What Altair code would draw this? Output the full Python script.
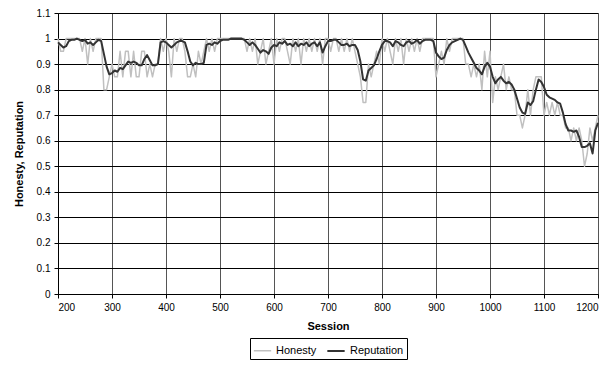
import altair as alt
import pandas as pd

sessions = list(range(200, 1201, 5))

honesty = [
    1.0, 0.95, 0.95, 1.0, 1.0, 1.0, 1.0, 1.0, 1.0, 0.95,
    1.0, 0.9, 1.0, 0.95, 1.0, 1.0, 1.0, 0.8, 0.8, 0.85,
    0.9, 0.85, 0.85, 0.95, 0.85, 0.95, 0.95, 0.85, 0.95, 0.85,
    0.85, 0.95, 0.95, 0.85, 0.9, 0.85, 0.9, 0.9, 1.0, 0.95,
    1.0, 0.95, 0.85, 1.0, 0.95, 1.0, 1.0, 0.95, 0.85, 0.85,
    0.9, 0.85, 0.95, 0.9, 0.95, 1.0, 0.95, 1.0, 0.95, 1.0,
    1.0, 1.0, 1.0, 1.0, 1.0, 1.0, 1.0, 1.0, 1.0, 1.0,
    0.95, 1.0, 0.95, 1.0, 0.9, 0.95, 1.0, 0.9, 0.95, 1.0,
    0.9, 1.0, 0.95, 1.0, 1.0, 0.95, 0.9, 1.0, 0.95, 1.0,
    0.9, 1.0, 0.95, 1.0, 0.95, 1.0, 0.95, 1.0, 0.9, 1.0,
    1.0, 0.95, 1.0, 1.0, 0.95, 1.0, 0.95, 1.0, 0.95, 1.0,
    0.95, 0.9, 0.85, 0.75, 0.75, 0.9, 0.85, 0.9, 0.95, 0.9,
    1.0, 0.95, 1.0, 0.95, 0.9, 1.0, 0.95, 1.0, 0.9, 1.0,
    0.95, 1.0, 0.95, 1.0, 0.95, 1.0, 1.0, 1.0, 1.0, 1.0,
    0.85, 0.9, 0.95, 0.9, 1.0, 0.95, 1.0, 1.0, 1.0, 1.0,
    1.0, 0.9, 0.9, 0.85, 0.9, 0.85, 0.9, 0.8, 0.95, 0.85,
    0.95, 0.75, 0.85, 0.8, 0.85, 0.9, 0.8, 0.85, 0.8, 0.8,
    0.7, 0.7, 0.65, 0.7, 0.8, 0.7, 0.8, 0.85, 0.85, 0.85,
    0.7, 0.75, 0.7, 0.75, 0.7, 0.75, 0.7, 0.7, 0.65, 0.65,
    0.6, 0.65, 0.6, 0.65, 0.6, 0.5, 0.55, 0.65, 0.6, 0.65,
    0.7,
]

reputation = [
    0.985, 0.975, 0.965, 0.97, 0.99, 0.995, 0.995, 1.0, 0.995, 0.99,
    0.995, 0.98, 0.985, 0.975, 0.985, 0.995, 0.99, 0.94, 0.89, 0.86,
    0.865, 0.875, 0.87, 0.885, 0.88, 0.895, 0.91, 0.905, 0.91, 0.905,
    0.895, 0.895, 0.92, 0.935, 0.915, 0.895, 0.895, 0.9, 0.985, 0.99,
    0.985, 0.975, 0.965, 0.975, 0.985, 0.99, 0.99, 0.985, 0.95, 0.91,
    0.895, 0.905, 0.9, 0.9, 0.905, 0.975, 0.98, 0.975, 0.985, 0.98,
    0.99, 0.995, 0.995, 0.995, 1.0, 1.0, 1.0, 1.0, 1.0, 0.995,
    0.985, 0.975, 0.985, 0.975, 0.96, 0.945, 0.955, 0.95, 0.94, 0.965,
    0.975, 0.97, 0.985, 0.98, 0.99, 0.975, 0.98, 0.97, 0.985, 0.97,
    0.98, 0.975, 0.985, 0.97, 0.98, 0.985, 0.97, 0.985, 0.945, 0.97,
    0.99, 0.99, 0.995, 0.995, 0.985, 0.975, 0.975, 0.98, 0.97, 0.975,
    0.975, 0.955, 0.91, 0.84, 0.835, 0.875, 0.885, 0.895, 0.92, 0.95,
    0.975, 0.99, 0.99, 0.985, 0.97, 0.99, 0.985, 0.975, 0.97, 0.985,
    0.99, 0.98, 0.985, 0.995, 0.98, 0.99, 0.995, 0.995, 0.995, 0.99,
    0.945, 0.93, 0.92, 0.925, 0.955, 0.975, 0.985, 0.99, 0.995, 1.0,
    0.995, 0.97, 0.945, 0.925, 0.905, 0.885, 0.875, 0.86, 0.89, 0.905,
    0.89, 0.85, 0.825, 0.84, 0.85, 0.835, 0.825, 0.83, 0.82, 0.8,
    0.765, 0.73, 0.71, 0.705, 0.75, 0.74, 0.755, 0.8, 0.84, 0.83,
    0.81, 0.78, 0.77, 0.765, 0.76, 0.75, 0.745, 0.71, 0.665, 0.64,
    0.64, 0.635, 0.64, 0.615, 0.575, 0.575, 0.58, 0.59, 0.55, 0.64,
    0.67,
]

series_names = ["Honesty", "Reputation"]
series_colors = ["#c0c0c0", "#333333"]
y_ticks = [round(i * 0.1, 1) for i in range(12)]
x_ticks = list(range(200, 1201, 100))

n = len(sessions)
df = pd.DataFrame({
    "Session": sessions + sessions,
    "value": honesty + reputation,
    "series": [series_names[0]] * n + [series_names[1]] * n,
})

font = "Liberation Sans"

chart = alt.Chart(df).mark_line(strokeJoin="round").encode(
    x=alt.X(
        "Session:Q",
        scale=alt.Scale(domain=[200, 1200], nice=False, zero=False),
        axis=alt.Axis(
            values=x_ticks, title="Session", format="d",
            grid=True, gridColor="#555555", gridWidth=1,
            domainColor="#000000", tickColor="#000000", tickSize=4,
            labelPadding=4, titlePadding=8,
        ),
    ),
    y=alt.Y(
        "value:Q",
        scale=alt.Scale(domain=[0, 1.1], nice=False),
        axis=alt.Axis(
            values=y_ticks, title="Honesty, Reputation", format="~g",
            grid=True, gridColor="#000000", gridWidth=1,
            domainColor="#000000", tickColor="#000000", tickSize=4,
            labelPadding=4, titlePadding=12,
        ),
    ),
    color=alt.Color(
        "series:N",
        scale=alt.Scale(domain=series_names, range=series_colors),
        legend=alt.Legend(
            title=None, orient="none", legendX=192, legendY=325,
            direction="horizontal", strokeColor="#000000", padding=3,
            symbolType="stroke", symbolSize=300, symbolStrokeWidth=2,
            labelFontSize=11, labelColor="#000000", labelFont=font,
            columnPadding=6, symbolOffset=0,
        ),
    ),
    strokeWidth=alt.StrokeWidth(
        "series:N",
        scale=alt.Scale(domain=series_names, range=[1.5, 2]),
        legend=None,
    ),
).properties(
    width=540,
    height=281,
    autosize=alt.AutoSizeParams(type="none"),
    padding={"left": 50, "top": 5, "right": 3, "bottom": 68},
).configure_view(
    stroke="#808080", strokeWidth=1,
).configure_axis(
    labelFont=font, labelFontSize=11, labelColor="#000000",
    titleFont=font, titleFontSize=12, titleFontWeight="bold", titleColor="#000000",
).configure(background="white")

chart.save("out.html", embed_options={"renderer": "svg", "actions": False})
